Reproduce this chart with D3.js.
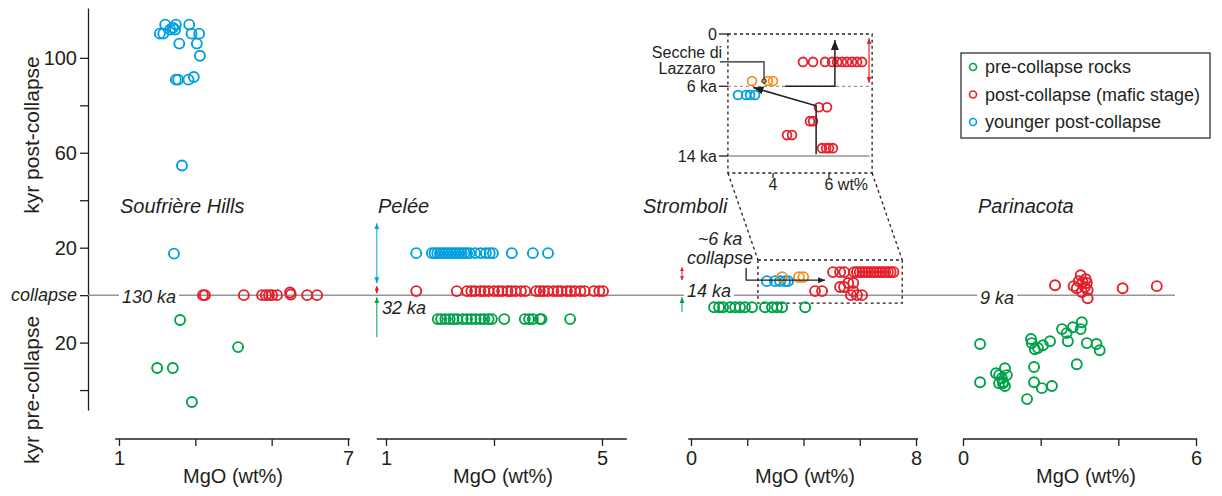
<!DOCTYPE html>
<html>
<head>
<meta charset="utf-8">
<script src="https://cdn.jsdelivr.net/npm/d3@7"></script>
<style>
  body { margin: 0; background: #fff; }
  svg { font-family: "Liberation Sans", Arial, sans-serif; }
</style>
</head>
<body>
<svg></svg>
<script>
// ---- data (MgO wt%, kyr relative to collapse: + post, - pre) ----
const yTickValues = [100, 80, 60, 40, 20, 0, -20, -40];
const yTickLabels = ['100', '', '60', '', '20', 'collapse', '20', ''];

const souYounger = [[2.21,114],[2.49,114],[2.84,114],[2.07,110.2],[2.16,110.2],[2.34,111.9],[2.47,111.9],
  [2.41,112.7],[2.90,110.2],[3.10,110.2],[2.58,106],[3.04,106],[3.12,100.9],[2.49,90.8],[2.55,90.8],
  [2.82,90.8],[2.96,91.9],[2.65,54.6],[2.44,17.5]];
const souMafic = [[3.2,0],[3.25,0],[4.27,0],[4.75,0],[4.85,0],[4.93,0],[5.01,0],[5.14,0],[5.48,1.1],
  [5.5,0.3],[5.93,0],[6.19,0]];
const souPre = [[2.6,-10.5],[4.12,-21.9],[2.0,-30.7],[2.41,-30.7],[2.91,-45]];

const peleeRows = { younger: 17.7, mafic: 1.7, pre: -10.1 };
const peleeYounger = [1.56,1.85,1.9,1.95,2.0,2.05,2.1,2.15,2.2,2.25,2.3,2.35,2.4,2.45,2.5,2.55,
  2.65,2.75,2.85,2.92,2.98,3.33,3.72,4.0];
const peleeMafic = [1.56,2.31,2.5,2.58,2.65,2.75,2.82,2.9,3.0,3.08,3.15,3.25,3.32,3.4,3.5,3.58,
  3.78,3.85,3.92,4.0,4.1,4.18,4.25,4.35,4.42,4.5,4.6,4.68,4.85,4.95,5.02];
const peleePre = [1.96,2.02,2.1,2.18,2.25,2.32,2.42,2.5,2.58,2.66,2.75,2.82,2.9,2.96,3.19,
  3.57,3.65,3.72,3.85,3.88,4.41];

// Stromboli main panel (kyr after the 14 ka collapse)
const strYounger = [[2.70,5.9],[2.99,5.9],[3.17,5.9],[3.35,5.9],[3.45,5.9]];
const strLazzaro = [[3.24,7.6],[3.84,7.6],[3.99,7.6]];
const strMafic = [[5.05,9.7],[5.3,9.7],[5.45,9.7],[5.8,9.7],[5.9,9.7],[6.0,9.7],[6.1,9.7],[6.2,9.7],
  [6.3,9.7],[6.4,9.7],[6.5,9.7],[6.6,9.7],[6.7,9.7],[6.8,9.7],[6.9,9.7],[7.0,9.7],[7.1,9.7],[7.2,9.7],
  [4.41,1.7],[4.66,1.7],[5.3,3.4],[5.44,3.4],[5.59,5.1],[5.77,5.1],[5.77,1.7],[5.69,0],[5.9,0],[6.08,0]];
const strPre = [[0.82,-5.1],[1.0,-5.1],[1.14,-5.1],[1.39,-5.1],[1.57,-5.1],[1.74,-5.1],[1.92,-5.1],
  [2.17,-5.1],[2.63,-5.1],[2.88,-5.1],[3.06,-5.1],[3.24,-5.1],[4.06,-5.1]];

// Stromboli inset (MgO wt%, ka)
const insetMafic = [[5.07,3.2],[5.43,3.2],[5.86,3.2],[6.11,3.2],[6.29,3.2],[6.46,3.2],[6.64,3.2],
  [6.82,3.2],[7.0,3.2],[7.18,3.2],[5.64,8.4],[5.93,8.4],[5.32,10],[5.43,10],[4.5,11.6],[4.68,11.6],
  [5.75,13.1],[5.9,13.1],[6.0,13.1],[6.14,13.1]];
const insetLazzaro = [[3.25,5.4],[3.82,5.4],[4.0,5.4]];
const insetYounger = [[2.75,7.0],[3.04,7.0],[3.18,7.0],[3.36,7.0]];

const parMafic = [[2.37,4.2],[3.03,8.4],[2.85,3.8],[2.93,2.9],[3.08,5.5],[3.19,5.1],[3.14,3.4],
  [3.21,2.1],[3.06,1.3],[3.21,-1.3],[2.98,5.9],[3.16,6.7],[4.11,2.9],[4.99,3.8]];
const parPre = [[0.44,-20.6],[0.44,-36.7],[0.85,-32.9],[0.93,-33.7],[1.0,-35.0],[1.08,-30.8],
  [1.03,-36.7],[1.08,-38.3],[1.03,-37.1],[1.13,-33.7],[0.93,-37.1],[1.65,-43.8],[1.83,-30.3],
  [1.83,-36.7],[2.03,-39.2],[2.29,-38.3],[1.75,-18.5],[1.77,-20.2],[1.85,-22.8],[1.93,-22.3],
  [2.06,-21.1],[2.24,-19.4],[2.55,-14.3],[2.67,-16.0],[2.70,-19.4],[2.83,-13.5],[3.06,-11.4],
  [3.03,-14.3],[3.19,-20.2],[3.44,-20.6],[3.52,-23.2],[2.93,-29.1]];

const legendItems = ['pre-collapse rocks', 'post-collapse (mafic stage)', 'younger post-collapse'];

// ---- drawing ----
const ink = '#231f20', grey = '#939598';
const green = '#00a14b', red = '#e5202a', blue = '#00a0df', orange = '#f39223';
const font = '"Liberation Sans", Arial, sans-serif';

const svg = d3.select('svg').attr('width', 1222).attr('height', 496);
const defs = svg.append('defs');
const marker = (id, color, w, h) => defs.append('marker')
  .attr('id', id).attr('viewBox', `0 0 ${w} ${h}`)
  .attr('refX', w).attr('refY', h / 2)
  .attr('markerWidth', w).attr('markerHeight', h)
  .attr('markerUnits', 'userSpaceOnUse')
  .attr('orient', 'auto-start-reverse')
  .append('path').attr('d', `M0,0L${w},${h / 2}L0,${h}Z`).attr('fill', color);
marker('arBlue', blue, 6, 5);
marker('arRed', red, 4, 4);
marker('arGreen', green, 6, 5);
marker('arBlack', ink, 10, 8);
marker('arBlackS', ink, 7, 6);
marker('arRedI', red, 6, 5);

const y = d3.scaleLinear().domain([-48.4, 121]).range([410, 8]);

// left axis
const yAxisG = svg.append('g')
  .attr('transform', 'translate(88,0)')
  .call(d3.axisLeft(y).tickValues(yTickValues).tickFormat((d, i) => yTickLabels[i])
    .tickSize(8).tickSizeOuter(0).tickPadding(3))
  .attr('font-family', font)
  .attr('font-size', 20);
yAxisG.select('.domain').attr('stroke', ink).attr('stroke-width', 1.3);
yAxisG.selectAll('.tick line').attr('stroke', ink).attr('stroke-width', 1.3);
yAxisG.selectAll('.tick text').attr('fill', ink);
yAxisG.selectAll('.tick text').filter(d => d === 0).attr('font-style', 'italic').attr('font-size', 18);

svg.append('text').attr('transform', 'translate(39,135) rotate(-90)')
  .attr('text-anchor', 'middle').attr('font-size', 21).attr('fill', ink).text('kyr post-collapse');
svg.append('text').attr('transform', 'translate(39,390) rotate(-90)')
  .attr('text-anchor', 'middle').attr('font-size', 21).attr('fill', ink).text('kyr pre-collapse');

// collapse line
svg.append('line').attr('x1', 88).attr('x2', 1175).attr('y1', y(0)).attr('y2', y(0))
  .attr('stroke', grey).attr('stroke-width', 1.5);

const boxedText = (x, yb, txt, size) => {
  const t = svg.append('text').attr('x', x).attr('y', yb).attr('font-size', size)
    .attr('font-style', 'italic').attr('fill', ink).text(txt);
  const b = t.node().getBBox();
  svg.insert('rect', () => t.node()).attr('x', b.x - 3).attr('y', b.y)
    .attr('width', b.width + 6).attr('height', b.height).attr('fill', '#fff');
};

const panels = [
  { title: 'Soufrière Hills', titleX: 120, x: d3.scaleLinear().domain([1, 7]).range([119, 348]),
    ext: [0.9, 7.05], ticks: [1, 3, 5, 7], labels: [1, 7], labelX: 233 },
  { title: 'Pelée', titleX: 378, x: d3.scaleLinear().domain([1, 5]).range([386, 602]),
    ext: [0.83, 5.46], ticks: [1, 3, 5], labels: [1, 5], labelX: 503 },
  { title: 'Stromboli', titleX: 643, x: d3.scaleLinear().domain([0, 8]).range([691, 916]),
    ext: [-0.1, 8.07], ticks: [0, 2, 4, 6, 8], labels: [0, 8], labelX: 805 },
  { title: 'Parinacota', titleX: 978, x: d3.scaleLinear().domain([0, 6]).range([963, 1196]),
    ext: [0, 6.03], ticks: [0, 2, 4, 6], labels: [0, 6], labelX: 1086 }
];

panels.forEach(p => {
  const g = svg.append('g').attr('transform', 'translate(0,439)')
    .call(d3.axisBottom(p.x).tickValues(p.ticks).tickFormat(d => p.labels.includes(d) ? d : '')
      .tickSize(7).tickSizeOuter(0).tickPadding(5))
    .attr('font-family', font).attr('font-size', 20);
  g.select('.domain').remove();
  g.selectAll('.tick line').attr('stroke', ink).attr('stroke-width', 1.3);
  g.selectAll('.tick text').attr('fill', ink);
  g.append('line').attr('x1', p.x(p.ext[0])).attr('x2', p.x(p.ext[1]))
    .attr('stroke', ink).attr('stroke-width', 1.3);
  svg.append('text').attr('x', p.labelX).attr('y', 483).attr('text-anchor', 'middle')
    .attr('font-size', 20).attr('fill', ink).text('MgO (wt%)');
  svg.append('text').attr('x', p.titleX).attr('y', 213).attr('font-size', 20)
    .attr('font-style', 'italic').attr('fill', ink).text(p.title);
});

const [xS, xP, xSt, xPa] = panels.map(p => p.x);

// age labels on the collapse line
boxedText(122, 302.5, '130 ka', 18);
svg.append('text').attr('x', 382).attr('y', 314).attr('font-size', 18).attr('font-style', 'italic')
  .attr('fill', ink).text('32 ka');
boxedText(687, 297, '14 ka', 18);
boxedText(980, 303.5, '9 ka', 18);

const dots = (xs, ys, data, color, r = 5, sw = 1.9) => svg.append('g')
  .selectAll('circle').data(data).enter().append('circle')
  .attr('cx', d => xs(d[0])).attr('cy', d => ys(d[1])).attr('r', r)
  .attr('fill', 'none').attr('stroke', color).attr('stroke-width', sw);

const arrow = (pts, color, width, end, start) => svg.append('path')
  .attr('d', d3.line()(pts)).attr('fill', 'none').attr('stroke', color)
  .attr('stroke-width', width)
  .attr('marker-end', end ? `url(#${end})` : null)
  .attr('marker-start', start ? `url(#${start})` : null);

// Soufriere Hills
dots(xS, y, souPre, green);
dots(xS, y, souMafic, red);
dots(xS, y, souYounger, blue);

// Pelee
dots(xP, y, peleePre.map(m => [m, peleeRows.pre]), green);
dots(xP, y, peleeMafic.map(m => [m, peleeRows.mafic]), red);
dots(xP, y, peleeYounger.map(m => [m, peleeRows.younger]), blue);
arrow([[xP(0.83), y(30.3)], [xP(0.83), y(5.0)]], blue, 1, 'arBlue', 'arBlue');
arrow([[xP(0.83), y(3.9)], [xP(0.83), y(0.7)]], red, 1, 'arRed', 'arRed');
arrow([[xP(0.83), y(-17.7)], [xP(0.83), y(-0.9)]], green, 1, 'arGreen');

// Stromboli main
svg.append('rect').attr('x', xSt(2.38)).attr('y', y(14.8))
  .attr('width', xSt(7.51) - xSt(2.38)).attr('height', y(-3.4) - y(14.8))
  .attr('fill', 'none').attr('stroke', ink).attr('stroke-width', 1.3).attr('stroke-dasharray', '3,3');
dots(xSt, y, strPre, green);
dots(xSt, y, strMafic, red);
dots(xSt, y, strYounger, blue);
dots(xSt, y, strLazzaro, orange);
arrow([[xSt(1.96), y(11.4)], [xSt(1.96), y(6.3)], [xSt(4.77), y(6.3)]], ink, 1.3, 'arBlackS');
arrow([[xSt(-0.32), y(11.8)], [xSt(-0.32), y(6.3)]], red, 1, 'arRed', 'arRed');
arrow([[xSt(-0.32), y(-7.2)], [xSt(-0.32), y(-0.9)]], green, 1, 'arGreen');
svg.append('text').attr('x', 720).attr('y', 245).attr('text-anchor', 'middle').attr('font-size', 18)
  .attr('font-style', 'italic').attr('fill', ink).text('~6 ka');
svg.append('text').attr('x', 720).attr('y', 264).attr('text-anchor', 'middle').attr('font-size', 18)
  .attr('font-style', 'italic').attr('fill', ink).text('collapse');

// Stromboli inset
const xi = d3.scaleLinear().domain([4, 6]).range([773, 829]);
const yi = d3.scaleLinear().domain([0, 14]).range([34, 156]);
const ib = { x0: xi(2.39), x1: xi(7.54), y0: yi(0), y1: yi(15.95) };
[[ib.x0, ib.y1, xSt(2.38), y(14.8)], [ib.x1, ib.y1, xSt(7.51), y(14.8)]].forEach(c => {
  svg.append('line').attr('x1', c[0]).attr('y1', c[1]).attr('x2', c[2]).attr('y2', c[3])
    .attr('stroke', ink).attr('stroke-width', 1.3).attr('stroke-dasharray', '3,3');
});
svg.append('rect').attr('x', ib.x0).attr('y', ib.y0).attr('width', ib.x1 - ib.x0)
  .attr('height', ib.y1 - ib.y0).attr('fill', 'none').attr('stroke', ink)
  .attr('stroke-width', 1.3).attr('stroke-dasharray', '3,3');
svg.append('line').attr('x1', ib.x0).attr('x2', ib.x1).attr('y1', yi(6)).attr('y2', yi(6))
  .attr('stroke', grey).attr('stroke-width', 1.3).attr('stroke-dasharray', '3,3');
svg.append('line').attr('x1', ib.x0).attr('x2', xi(7.45)).attr('y1', yi(14)).attr('y2', yi(14))
  .attr('stroke', grey).attr('stroke-width', 1.5);
[[0, '0'], [6, '6 ka'], [14, '14 ka']].forEach(([v, t]) => {
  svg.append('line').attr('x1', ib.x0 - 9).attr('x2', ib.x0).attr('y1', yi(v)).attr('y2', yi(v))
    .attr('stroke', ink).attr('stroke-width', 1.3);
  svg.append('text').attr('x', ib.x0 - 11).attr('y', yi(v)).attr('dy', '0.35em')
    .attr('text-anchor', 'end').attr('font-size', 16).attr('fill', ink).text(t);
});
[[4, '4', 'middle', 0], [6, '6 wt%', 'start', -4.5]].forEach(([v, t, a, dx]) => {
  svg.append('line').attr('x1', xi(v)).attr('x2', xi(v)).attr('y1', ib.y1).attr('y2', ib.y1 + 5)
    .attr('stroke', ink).attr('stroke-width', 1.3);
  svg.append('text').attr('x', xi(v) + dx).attr('y', 190).attr('text-anchor', a)
    .attr('font-size', 16).attr('fill', ink).text(t);
});
dots(xi, yi, insetMafic, red, 4.4, 1.8);
dots(xi, yi, insetYounger, blue, 4.4, 1.8);
dots(xi, yi, insetLazzaro, orange, 4.4, 1.8);
arrow([[xi(5.54), yi(13.8)], [xi(5.54), yi(8.25)], [xi(3.3), yi(6.15)]], ink, 1.5, 'arBlack');
arrow([[xi(4.43), yi(6)], [xi(6.21), yi(6)], [xi(6.21), yi(0.7)]], ink, 1.5, 'arBlack');
arrow([[xi(7.43), yi(0.5)], [xi(7.43), yi(5.6)]], red, 1.2, 'arRedI', 'arRedI');
arrow([[720, yi(3.2)], [xi(3.68), yi(3.2)], [xi(3.68), yi(5.4)]], ink, 1.2);
svg.append('circle').attr('cx', xi(3.68)).attr('cy', yi(5.4)).attr('r', 2.2)
  .attr('fill', orange).attr('stroke', ink).attr('stroke-width', 1);
svg.append('text').attr('x', 687).attr('y', 58).attr('text-anchor', 'middle').attr('font-size', 16)
  .attr('fill', ink).text('Secche di');
svg.append('text').attr('x', 687).attr('y', 74).attr('text-anchor', 'middle').attr('font-size', 16)
  .attr('fill', ink).text('Lazzaro');

// Parinacota
dots(xPa, y, parPre, green);
dots(xPa, y, parMafic, red);

// legend
const legend = svg.append('g').attr('transform', 'translate(961,53)');
legend.append('rect').attr('width', 249).attr('height', 85).attr('fill', '#fff')
  .attr('stroke', ink).attr('stroke-width', 1.2);
[green, red, blue].forEach((c, i) => {
  legend.append('circle').attr('cx', 12).attr('cy', 14 + i * 27.5).attr('r', 3.5)
    .attr('fill', 'none').attr('stroke', c).attr('stroke-width', 1.6);
  legend.append('text').attr('x', 24).attr('y', 14 + i * 27.5).attr('dy', '0.35em')
    .attr('font-size', 18).attr('fill', ink).text(legendItems[i]);
});
</script>
</body>
</html>
